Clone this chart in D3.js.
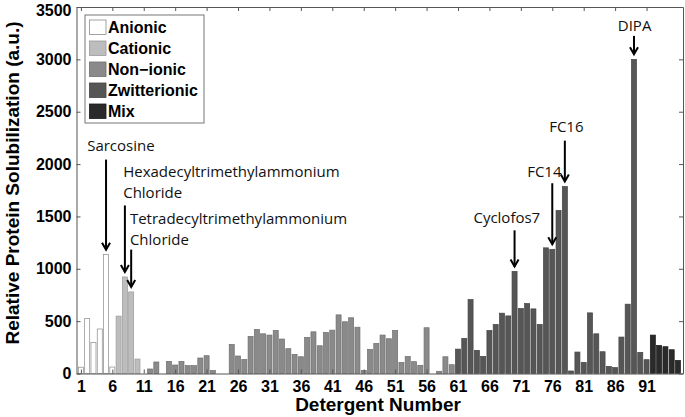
<!DOCTYPE html>
<html>
<head>
<meta charset="utf-8">
<script src="https://cdn.jsdelivr.net/npm/d3@7/dist/d3.min.js"></script>
<style>
  html, body { margin: 0; padding: 0; background: #fff; }
  svg { display: block; }
</style>
</head>
<body>
<svg id="chart" width="685" height="417"></svg>
<script>
// ---------------- DATA ----------------
const detergents = d3.range(1, 97);
const solubilization = [
  60, 525, 297, 425, 1135, 62, 548, 922, 779, 138,
  0, 43, 110, 0, 116, 81, 116, 75, 75, 148,
  170, 28, 0, 0, 278, 167, 135, 354, 421, 379,
  367, 411, 329, 237, 183, 160, 344, 398, 265, 392,
  414, 560, 494, 532, 442, 30, 230, 287, 367, 332,
  411, 106, 163, 113, 78, 437, 0, 21, 160, 84,
  233, 335, 706, 221, 163, 411, 468, 576, 550, 975,
  621, 668, 617, 468, 1200, 1186, 1557, 1786, 24, 205,
  106, 579, 379, 208, 68, 56, 348, 662, 3000, 202,
  132, 367, 268, 256, 227, 125
];
const categoryNames = ["Anionic", "Cationic", "Non\u2212ionic", "Zwitterionic", "Mix"];
const categoryFirstDetergent = [1, 7, 12, 61, 92];
const categoryFill = ["#ffffff", "#bdbdbd", "#8a8a8a", "#565656", "#2a2a2a"];
const categoryStroke = ["#8a8a8a", "#9a9a9a", "#6e6e6e", "#444444", "#1a1a1a"];
const xTickValues = [1, 6, 11, 16, 21, 26, 31, 36, 41, 46, 51, 56, 61, 66, 71, 76, 81, 86, 91];
const yTickValues = [0, 500, 1000, 1500, 2000, 2500, 3000, 3500];
// annotations: label lines, target detergent, text position (detergent units / value units), arrow start value
const annLabels = [["Sarcosine"], ["Hexadecyltrimethylammonium", "Chloride"], ["Tetradecyltrimethylammonium", "Chloride"], ["Cyclofos7"], ["FC14"], ["FC16"], ["DIPA"]];
const annTarget = [5, 8, 9, 70, 76, 78, 89];
const annTextX = [2.0, 7.73, 8.8, 68.77, 74.74, 78.24, 89.1];
const annTextAnchor = ["start", "start", "start", "middle", "middle", "middle", "middle"];
const annTextY = [2129, 1874, 1430, 1436, 1874, 2303, 3271];
const annArrowStart = [2043, 1605, 1183, 1367, 1817, 2224, 3224];

// ---------------- LAYOUT ----------------
const L = 76.5, R = 683, T = 7, B = 373.5;
const svg = d3.select("#chart");
const x = d3.scaleLinear().domain([0.3, 96.8]).range([L, R]);
const y = d3.scaleLinear().domain([0, 3500]).range([B, T]);
const step = x(2) - x(1);
const barW = step * 0.8;
const catOf = n => { let c = 0; categoryFirstDetergent.forEach((s, i) => { if (n >= s) c = i; }); return c; };

const axisFont = "'Liberation Sans', Arial, Helvetica, sans-serif";
const annFont = "'Open Sans', 'Noto Sans', sans-serif";

// bars
svg.append("g").selectAll("rect")
  .data(detergents.map((d, i) => ({ n: d, v: solubilization[i] })).filter(d => d.v > 0))
  .join("rect")
  .attr("x", d => x(d.n) - barW / 2)
  .attr("y", d => y(d.v))
  .attr("width", barW)
  .attr("height", d => y(0) - y(d.v))
  .attr("fill", d => categoryFill[catOf(d.n)])
  .attr("stroke", d => categoryStroke[catOf(d.n)])
  .attr("stroke-width", 0.7);

// axes (MATLAB-style inward ticks, boxed)
const gx = svg.append("g").attr("transform", `translate(0,${B})`)
  .call(d3.axisBottom(x).tickValues(xTickValues).tickSizeInner(-4).tickSizeOuter(0).tickPadding(8).tickFormat(d3.format("d")));
const gxt = svg.append("g").attr("transform", `translate(0,${T})`)
  .call(d3.axisTop(x).tickValues(xTickValues).tickSizeInner(-4).tickSizeOuter(0).tickFormat(""));
const gy = svg.append("g").attr("transform", `translate(${L},0)`)
  .call(d3.axisLeft(y).tickValues(yTickValues).tickSizeInner(-4).tickSizeOuter(0).tickPadding(5).tickFormat(d3.format("d")));
const gyr = svg.append("g").attr("transform", `translate(${R},0)`)
  .call(d3.axisRight(y).tickValues(yTickValues).tickSizeInner(-4).tickSizeOuter(0).tickFormat(""));
[gx, gxt, gy, gyr].forEach(g => {
  g.select(".domain").attr("stroke", "#555");
  g.selectAll(".tick line").attr("stroke", "#555");
  g.selectAll("text").attr("font-family", axisFont).attr("font-weight", "bold").attr("font-size", 16).attr("fill", "#000");
});
gx.selectAll(".tick text").attr("dy", "0.71em").attr("y", 7);
// keep the top label inside the canvas
gy.selectAll(".tick text").filter(d => d === 3500).attr("dy", "0.55em");

// axis titles
svg.append("text")
  .attr("x", 378).attr("y", 411)
  .attr("text-anchor", "middle")
  .attr("font-family", axisFont).attr("font-weight", "bold").attr("font-size", 19)
  .text("Detergent Number");
svg.append("text")
  .attr("transform", `translate(18.5,183) rotate(-90)`)
  .attr("text-anchor", "middle")
  .attr("font-family", axisFont).attr("font-weight", "bold").attr("font-size", 19)
  .text("Relative Protein Solubilization (a.u.)");

// legend
const lg = svg.append("g");
lg.append("rect").attr("x", 85).attr("y", 15).attr("width", 119).attr("height", 108)
  .attr("fill", "#fff").attr("stroke", "#777").attr("stroke-width", 1);
categoryNames.forEach((name, i) => {
  const yy = 20 + i * 21;
  lg.append("rect").attr("x", 89.5).attr("y", yy).attr("width", 16.5).attr("height", 14.5)
    .attr("fill", categoryFill[i]).attr("stroke", categoryStroke[i]).attr("stroke-width", 0.8);
  lg.append("text").attr("x", 108).attr("y", yy + 12.5)
    .attr("font-family", axisFont).attr("font-weight", "bold").attr("font-size", 16)
    .text(name);
});

// annotations
const ag = svg.append("g");
annLabels.forEach((lines, i) => {
  lines.forEach((ln, j) => {
    ag.append("text")
      .attr("x", x(annTextX[i]))
      .attr("y", y(annTextY[i]) + j * 21)
      .attr("text-anchor", annTextAnchor[i])
      .attr("font-family", annFont).attr("font-size", 15)
      .attr("fill", "#111")
      .text(ln);
  });
  const ax = x(annTarget[i]);
  const y0 = y(annArrowStart[i]);
  const y1 = y(solubilization[annTarget[i] - 1]) - 5;
  ag.append("line").attr("x1", ax).attr("x2", ax).attr("y1", y0).attr("y2", y1)
    .attr("stroke", "#000").attr("stroke-width", 2);
  ag.append("path")
    .attr("d", `M${ax - 4},${y1 - 7} L${ax},${y1} L${ax + 4},${y1 - 7}`)
    .attr("fill", "none").attr("stroke", "#000").attr("stroke-width", 2);
});
</script>
</body>
</html>
